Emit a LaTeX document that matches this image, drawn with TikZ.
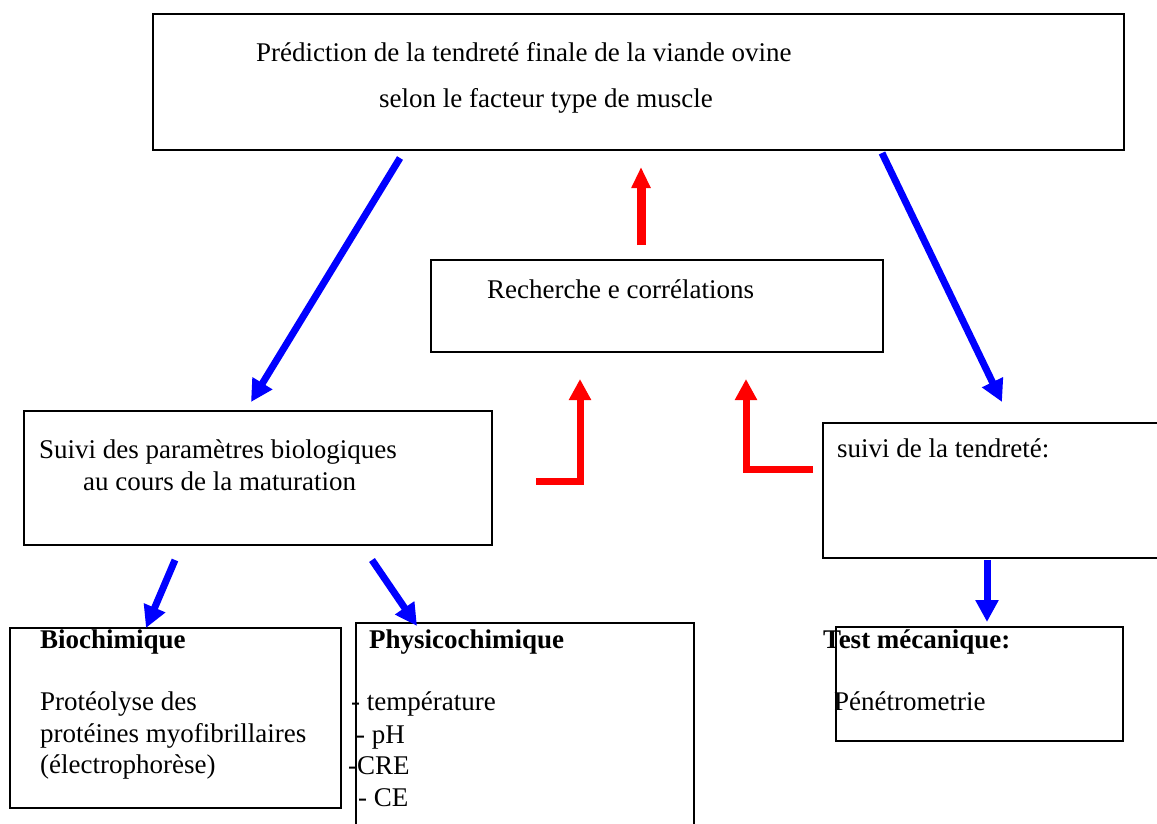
\documentclass[tikz,border=0pt]{standalone}
\usepackage{fontspec}
\setmainfont{Liberation Serif}
\usetikzlibrary{arrows.meta}
\begin{document}
\begin{tikzpicture}[x=1pt,y=-1pt,
  box/.style={draw=black, line width=1.6pt, inner sep=0pt, anchor=north west},
  txt/.style={anchor=base west, inner sep=0pt, font=\fontsize{27}{33}\selectfont},
  btxt/.style={anchor=base west, inner sep=0pt, font=\fontsize{27}{33}\selectfont\bfseries},
  bluearrow/.style={draw=blue, line width=7pt, -{Triangle[length=22pt,width=22pt]}},
  redarrow/.style={draw=red, line width=7pt, line join=miter, -{Triangle[length=21pt,width=21pt]}},
  redup/.style={draw=red, line width=9pt, -{Triangle[length=21pt,width=18pt]}}]
\useasboundingbox (0,0) rectangle (1157,824);
\clip (0,0) rectangle (1157,824);
% boxes
\node[box, minimum width=971pt, minimum height=136pt] (top) at (152,13) {};
\node[box, minimum width=452pt, minimum height=92pt] (rech) at (430,259) {};
\node[box, minimum width=468pt, minimum height=134pt] (suivi) at (23,410) {};
\node[box, minimum width=360pt, minimum height=135pt] (tend) at (822,422) {};
\node[box, minimum width=331pt, minimum height=180pt] (bio) at (9,627) {};
\node[box, minimum width=338pt, minimum height=230pt] (phys) at (355,622) {};
\node[box, minimum width=287pt, minimum height=114pt] (test) at (835,626) {};
% texts
\node[txt] (t1) at (256,62) {Prédiction de la tendreté finale de la viande ovine};
\node[txt] (t2) at (379,108) {selon le facteur type de muscle};
\node[txt] (t3) at (487,298) {Recherche e corrélations};
\node[txt] (t4) at (39,458) {Suivi des paramètres biologiques};
\node[txt] (t5) at (83,490) {au cours de la maturation};
\node[txt] (t6) at (837,457) {suivi de la tendreté:};
\node[btxt] (t7) at (40,648) {Biochimique};
\node[txt] (t8) at (40,710) {Protéolyse des};
\node[txt] (t9) at (40,742) {protéines myofibrillaires};
\node[txt] (t10) at (40,773) {(électrophorèse)};
\node[btxt] (t11) at (369,648) {Physicochimique};
\node[txt] (t12) at (351,710) {- température};
\node[txt] (t13) at (356,743) {- pH};
\node[txt] (t14) at (348,774) {-CRE};
\node[txt] (t15) at (358,806) {- CE};
\node[btxt] (t16) at (823,648) {Test mécanique:};
\node[txt] (t17) at (834,710) {Pénétrometrie};
% arrow endpoints
\coordinate (b1s) at (400,158); \coordinate (b1e) at (251,402);
\coordinate (b2s) at (882,153); \coordinate (b2e) at (1002,402);
\coordinate (b3s) at (175,560); \coordinate (b3e) at (146,628);
\coordinate (b4s) at (372,560); \coordinate (b4e) at (417,626);
\coordinate (b5s) at (987,560); \coordinate (b5e) at (987,622);
\coordinate (r1s) at (641,245); \coordinate (r1e) at (641,167);
\coordinate (r2s) at (536,481); \coordinate (r2e) at (580,379);
\coordinate (r3s) at (813,469); \coordinate (r3e) at (746,379);
% blue arrows
\draw[bluearrow] (b1s) -- (b1e);
\draw[bluearrow] (b2s) -- (b2e);
\draw[bluearrow] (b3s) -- (b3e);
\draw[bluearrow] (b4s) -- (b4e);
\draw[bluearrow] (b5s) -- (b5e);
% red arrows
\draw[redup] (r1s) -- (r1e);
\draw[redarrow] (r2s) -| (r2e);
\draw[redarrow] (r3s) -| (r3e);
\end{tikzpicture}
\end{document}
